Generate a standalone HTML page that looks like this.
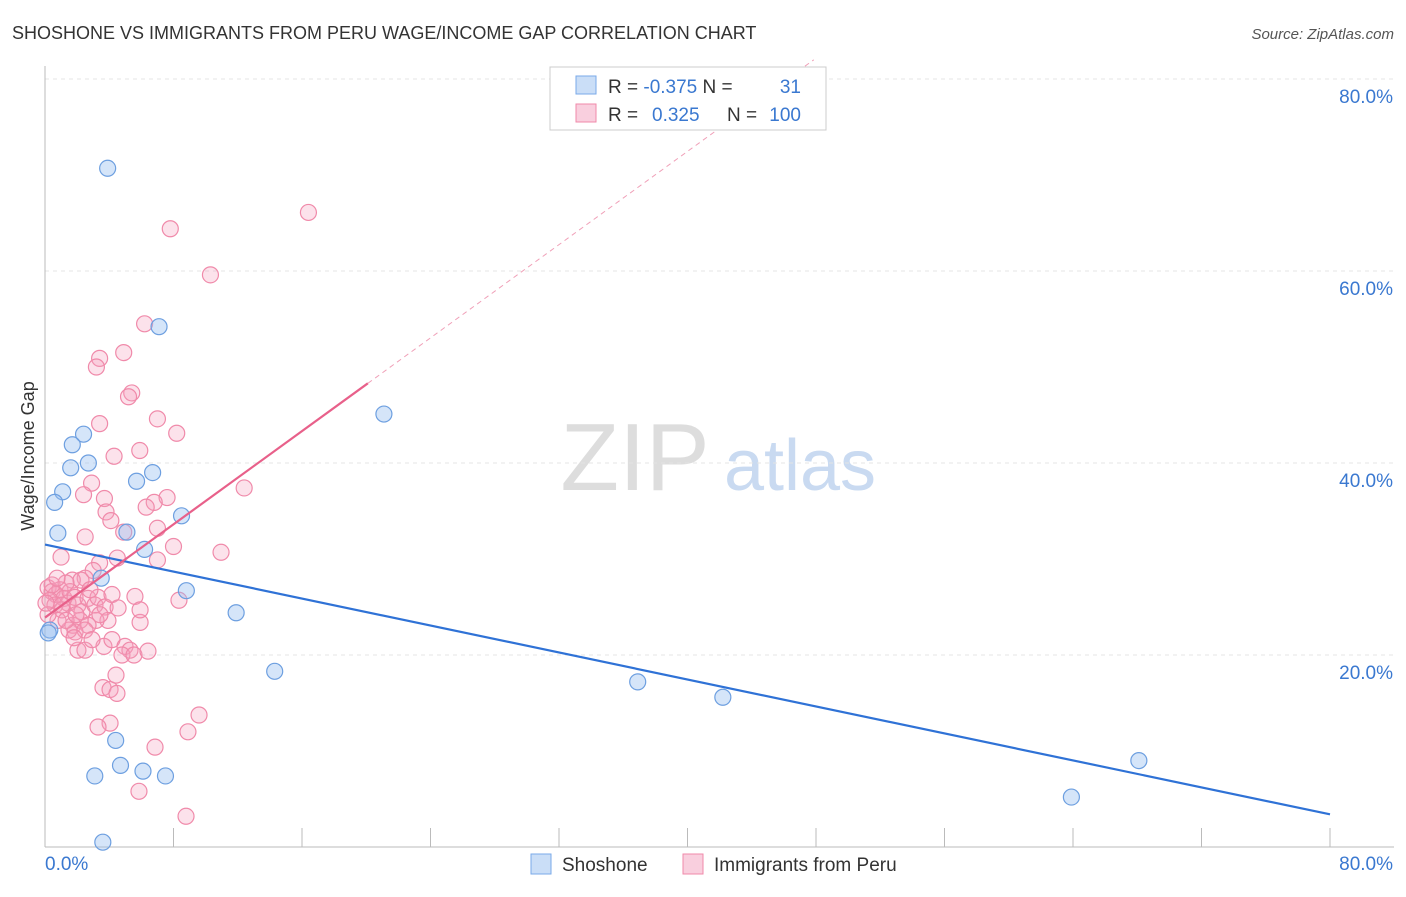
<!DOCTYPE html>
<html><head><meta charset="utf-8">
<style>
body{margin:0;background:#fff;font-family:"Liberation Sans",sans-serif;}
svg text{font-family:"Liberation Sans",sans-serif;}
</style></head>
<body>
<svg id="chart" width="1406" height="892" xmlns="http://www.w3.org/2000/svg">
<text x="12" y="39" font-size="18" fill="#333">SHOSHONE VS IMMIGRANTS FROM PERU WAGE/INCOME GAP CORRELATION CHART</text>
<text x="1394" y="39" font-size="15" fill="#555" text-anchor="end" font-style="italic">Source: ZipAtlas.com</text>
<g>
<text x="635" y="490" font-size="96" fill="#ddd" text-anchor="middle" font-family="Liberation Serif">ZIP</text>
<text x="800" y="490" font-size="72" fill="#c9daf1" text-anchor="middle">atlas</text>
</g>
<g id="grid"></g>
<g id="axes"></g>
<g id="pts"></g>
<g id="lines"></g>
<text transform="translate(34,456) rotate(-90)" font-size="18" fill="#333" text-anchor="middle">Wage/Income Gap</text>
<g>
<rect x="550" y="67" width="276" height="63" fill="#fff" stroke="#ccc"/>
<rect x="576" y="76" width="20" height="18" fill="rgba(150,190,240,0.5)" stroke="#7aaae8"/>
<rect x="576" y="104" width="20" height="18" fill="rgba(244,160,190,0.5)" stroke="#f08aaa"/>
<text x="608" y="93" font-size="19" fill="#333">R = <tspan fill="#3a78d0">-0.375</tspan>   N = </text>
<text x="801" y="93" font-size="19" fill="#3a78d0" text-anchor="end">31</text>
<text x="608" y="121" font-size="19" fill="#333">R = </text>
<text x="652" y="121" font-size="19" fill="#3a78d0">0.325</text>
<text x="727" y="121" font-size="19" fill="#333">N = </text>
<text x="801" y="121" font-size="19" fill="#3a78d0" text-anchor="end">100</text>
</g>
<g>
<rect x="531" y="854" width="20" height="20" fill="rgba(150,190,240,0.5)" stroke="#7aaae8"/>
<text x="562" y="871" font-size="19" fill="#333">Shoshone</text>
<rect x="683" y="854" width="20" height="20" fill="rgba(244,160,190,0.5)" stroke="#f08aaa"/>
<text x="714" y="871" font-size="19" fill="#333">Immigrants from Peru</text>
</g>
</svg>
<script>
const xTicks=[0,8,16,24,32,40,48,56,64,72,80];
const yTickVals=[20,40,60,80];
const yTickLabels=["20.0%","40.0%","60.0%","80.0%"];
const shoX=[3.9,7.1,21.1,2.4,1.7,2.7,1.6,6.7,5.7,1.1,0.6,8.5,0.8,5.1,6.2,3.5,8.8,11.9,0.3,0.2,14.3,36.9,42.2,4.4,4.7,6.1,3.1,7.5,68.1,63.9,3.6];
const shoY=[70.7,54.2,45.1,43.0,41.9,40.0,39.5,39.0,38.1,37.0,35.9,34.5,32.7,32.8,31.0,28.0,26.7,24.4,22.6,22.3,18.3,17.2,15.6,11.1,8.5,7.9,7.4,7.4,9.0,5.2,0.5];
const peruX=[16.4,7.8,10.3,6.2,4.9,3.4,3.2,5.4,5.2,7.0,3.4,8.2,5.9,4.3,12.4,2.9,2.4,7.6,6.8,3.7,6.3,3.8,4.1,7.0,2.5,4.9,8.0,10.96,1.0,4.5,7.0,3.4,3.0,2.5,1.7,2.24,
0.19,0.44,0.68,0.93,1.18,1.43,0.31,0.62,1.06,1.56,1.87,2.05,2.30,2.68,3.11,3.30,3.74,3.92,4.17,4.55,5.60,8.34,5.92,3.18,2.18,1.74,2.68,1.87,1.49,0.81,0.19,0.06,0.44,1.31,2.80,2.49,
2.05,2.49,3.67,4.17,4.98,5.29,4.79,5.54,6.41,3.61,4.05,4.48,4.42,9.59,4.05,3.30,8.90,6.85,5.85,8.78,1.81,1.06,1.31,2.93,5.92,1.93,3.42,0.75];
const peruY=[66.1,64.4,59.6,54.5,51.5,50.9,50.0,47.3,46.9,44.6,44.1,43.1,41.3,40.7,37.4,37.9,36.7,36.4,35.9,36.3,35.4,34.9,34.0,33.2,32.3,32.8,31.3,30.7,30.2,30.1,29.9,29.6,28.8,28.0,27.8,27.8,
27.0,26.6,26.3,26.8,25.9,25.4,25.7,25.2,24.7,26.6,26.0,25.2,24.5,25.9,25.2,26.0,25.0,23.6,26.3,24.9,26.1,25.7,23.4,23.6,23.6,23.1,23.1,22.4,22.6,23.6,24.2,25.4,27.3,27.5,26.8,22.6,
20.5,20.5,20.9,21.6,20.9,20.5,20.0,20.0,20.4,16.6,16.4,16.0,17.9,13.75,12.9,12.5,12.0,10.4,5.8,3.2,21.8,25.2,23.6,21.6,24.7,24.2,24.2,28.0];
const shoLine=[31.5,3.4];
const peruLine=[23.9,48.3];
const peruLineEnd=20.1;

const NS="http://www.w3.org/2000/svg";
const sx=v=>45+v*(1285/80);
const sy=v=>847-v*9.6;
function mk(tag,attrs,parent){const e=document.createElementNS(NS,tag);for(const k in attrs)e.setAttribute(k,attrs[k]);document.getElementById(parent).appendChild(e);return e;}
yTickVals.forEach((v,i)=>{
 const l=mk('line',{x1:45,x2:1394,y1:sy(v),y2:sy(v),stroke:'#e4e4e4','stroke-dasharray':'4,4'},'grid');
 
 
 const t=mk('text',{x:1393,y:sy(v)+24,'font-size':19,fill:'#3a78d0','text-anchor':'end'},'axes');
 t.textContent=yTickLabels[i];
 
 
});
const ax=mk('line',{x1:45,x2:45,y1:66,y2:847,stroke:'#bbb'},'axes');


const bx=mk('line',{x1:45,x2:1394,y1:847,y2:847,stroke:'#bbb'},'axes');


xTicks.forEach(v=>{
 const t=mk('line',{x1:sx(v),x2:sx(v),y1:828,y2:847,stroke:'#bbb'},'axes');
 
 
});
const xl0=mk('text',{x:45,y:870,'font-size':19,fill:'#3a78d0'},'axes');xl0.textContent='0.0%';


const xl1=mk('text',{x:1393,y:870,'font-size':19,fill:'#3a78d0','text-anchor':'end'},'axes');xl1.textContent='80.0%';


peruX.forEach((x,i)=>{
 const c=mk('circle',{cx:sx(x),cy:sy(peruY[i]),r:8,fill:'rgba(244,160,190,0.3)',stroke:'#f08aaa','stroke-width':1.2},'pts');
 
 
});
shoX.forEach((x,i)=>{
 const c=mk('circle',{cx:sx(x),cy:sy(shoY[i]),r:8,fill:'rgba(150,190,240,0.4)',stroke:'#6d9fe0','stroke-width':1.2},'pts');
 
 
});
const bl=mk('line',{x1:sx(0),y1:sy(shoLine[0]),x2:sx(80),y2:sy(shoLine[1]),stroke:'#2f72d6','stroke-width':2.2},'lines');


const slope=(peruLine[1]-peruLine[0])/peruLineEnd;
const pl=mk('line',{x1:sx(0),y1:sy(peruLine[0]),x2:sx(peruLineEnd),y2:sy(peruLine[1]),stroke:'#e8608a','stroke-width':2.2},'lines');


const xe=peruLineEnd+(82-peruLine[1])/slope;
const pd=mk('line',{x1:sx(peruLineEnd),y1:sy(peruLine[1]),x2:sx(xe),y2:sy(82),stroke:'#f0a0b8','stroke-width':1,'stroke-dasharray':'5,4'},'lines');


</script>
</body></html>
